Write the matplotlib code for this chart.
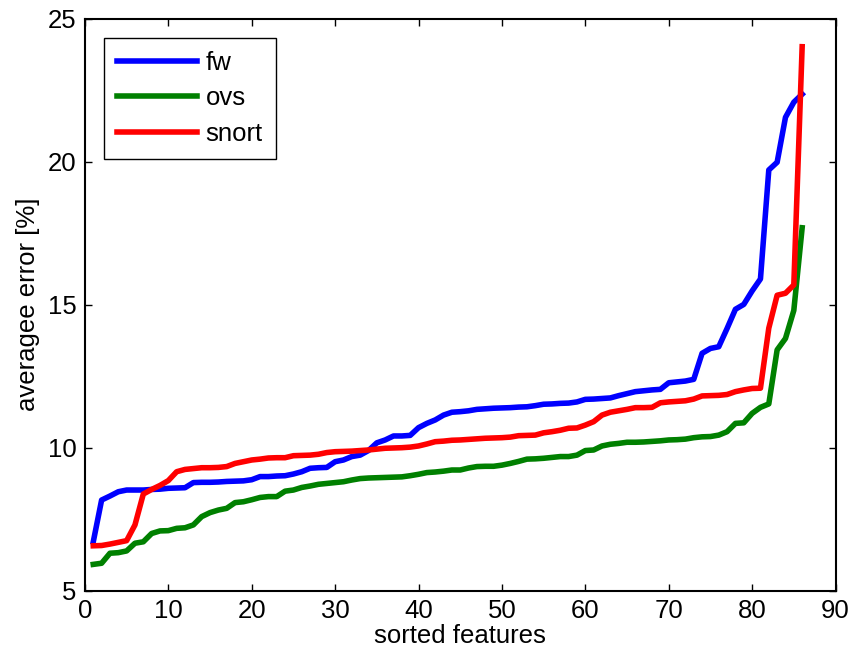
import matplotlib
matplotlib.use('Agg')
import matplotlib.pyplot as plt
import numpy as np

# average error per feature, sorted (features 1..86)
fw = [6.71, 8.17, 8.31, 8.46, 8.52, 8.52, 8.52, 8.54, 8.55, 8.58,
      8.59, 8.60, 8.78, 8.79, 8.79, 8.80, 8.82, 8.83, 8.84, 8.88,
      8.99, 8.99, 9.01, 9.02, 9.08, 9.16, 9.28, 9.30, 9.31, 9.51,
      9.57, 9.69, 9.74, 9.90, 10.17, 10.27, 10.41, 10.41, 10.43, 10.70,
      10.85, 10.97, 11.14, 11.24, 11.26, 11.29, 11.34, 11.36, 11.38, 11.39,
      11.40, 11.42, 11.43, 11.47, 11.52, 11.53, 11.55, 11.56, 11.60, 11.69,
      11.70, 11.72, 11.74, 11.82, 11.89, 11.96, 11.99, 12.02, 12.04, 12.27,
      12.30, 12.33, 12.39, 13.30, 13.47, 13.53, 14.17, 14.84, 15.01, 15.48,
      15.90, 19.71, 19.98, 21.55, 22.08, 22.36]

ovs = [5.92, 5.96, 6.31, 6.33, 6.39, 6.66, 6.71, 7.00, 7.09, 7.10,
       7.18, 7.20, 7.30, 7.59, 7.73, 7.82, 7.88, 8.08, 8.11, 8.18,
       8.26, 8.29, 8.29, 8.48, 8.52, 8.61, 8.66, 8.72, 8.75, 8.78,
       8.81, 8.87, 8.92, 8.94, 8.95, 8.96, 8.97, 8.98, 9.02, 9.07,
       9.13, 9.15, 9.18, 9.22, 9.22, 9.29, 9.34, 9.35, 9.35, 9.39,
       9.45, 9.52, 9.60, 9.61, 9.63, 9.66, 9.69, 9.69, 9.74, 9.90,
       9.92, 10.06, 10.12, 10.15, 10.19, 10.19, 10.20, 10.22, 10.24, 10.27,
       10.28, 10.30, 10.35, 10.38, 10.39, 10.44, 10.56, 10.85, 10.87, 11.20,
       11.41, 11.53, 13.42, 13.82, 14.80, 17.69]

snort = [6.57, 6.58, 6.63, 6.69, 6.75, 7.30, 8.38, 8.54, 8.68, 8.85,
         9.16, 9.24, 9.27, 9.30, 9.30, 9.31, 9.34, 9.45, 9.51, 9.57,
         9.60, 9.64, 9.65, 9.65, 9.72, 9.73, 9.74, 9.77, 9.83, 9.86,
         9.87, 9.88, 9.90, 9.92, 9.95, 9.98, 9.99, 10.00, 10.02, 10.06,
         10.13, 10.21, 10.23, 10.26, 10.27, 10.29, 10.31, 10.33, 10.34, 10.35,
         10.37, 10.42, 10.43, 10.44, 10.52, 10.56, 10.61, 10.68, 10.69, 10.79,
         10.91, 11.14, 11.24, 11.29, 11.34, 11.40, 11.40, 11.41, 11.57, 11.60,
         11.62, 11.64, 11.70, 11.81, 11.82, 11.83, 11.86, 11.96, 12.02, 12.07,
         12.08, 14.18, 15.33, 15.40, 15.69, 24.02]

x = np.arange(1, len(fw) + 1)

plt.rcParams['font.family'] = ['Liberation Sans', 'DejaVu Sans']
plt.rcParams['font.size'] = 18.5

fig = plt.figure(figsize=(8.51, 6.6), dpi=100)
ax = fig.add_axes([0.0998, 0.105, 0.8820, 0.8667])

ax.plot(x, fw, color=(0, 0, 1), lw=4, label='fw')
ax.plot(x, ovs, color=(0, 0.5, 0), lw=4, label='ovs')
ax.plot(x, snort, color=(1, 0, 0), lw=4, label='snort')

ax.set_xlim(0, 90)
ax.set_ylim(5, 25)
ax.set_xticks(np.arange(0, 91, 10))
ax.set_yticks(np.arange(5, 26, 5))
ax.tick_params(direction='in', top=True, right=True, length=5, width=1,
               pad=6, labelsize=18.5)
for sp in ax.spines.values():
    sp.set_linewidth(1.5)

ax.set_xlabel('sorted features', labelpad=1)
ax.set_ylabel('averagee error [%]', labelpad=6)

leg = ax.legend(loc='upper left', fancybox=False, framealpha=1,
                edgecolor='black', handlelength=3.1, handletextpad=0.35,
                labelspacing=0.45, borderpad=0.5, borderaxespad=0.75)
leg.get_frame().set_linewidth(1.0)

fig.savefig('out.png', dpi=100)
